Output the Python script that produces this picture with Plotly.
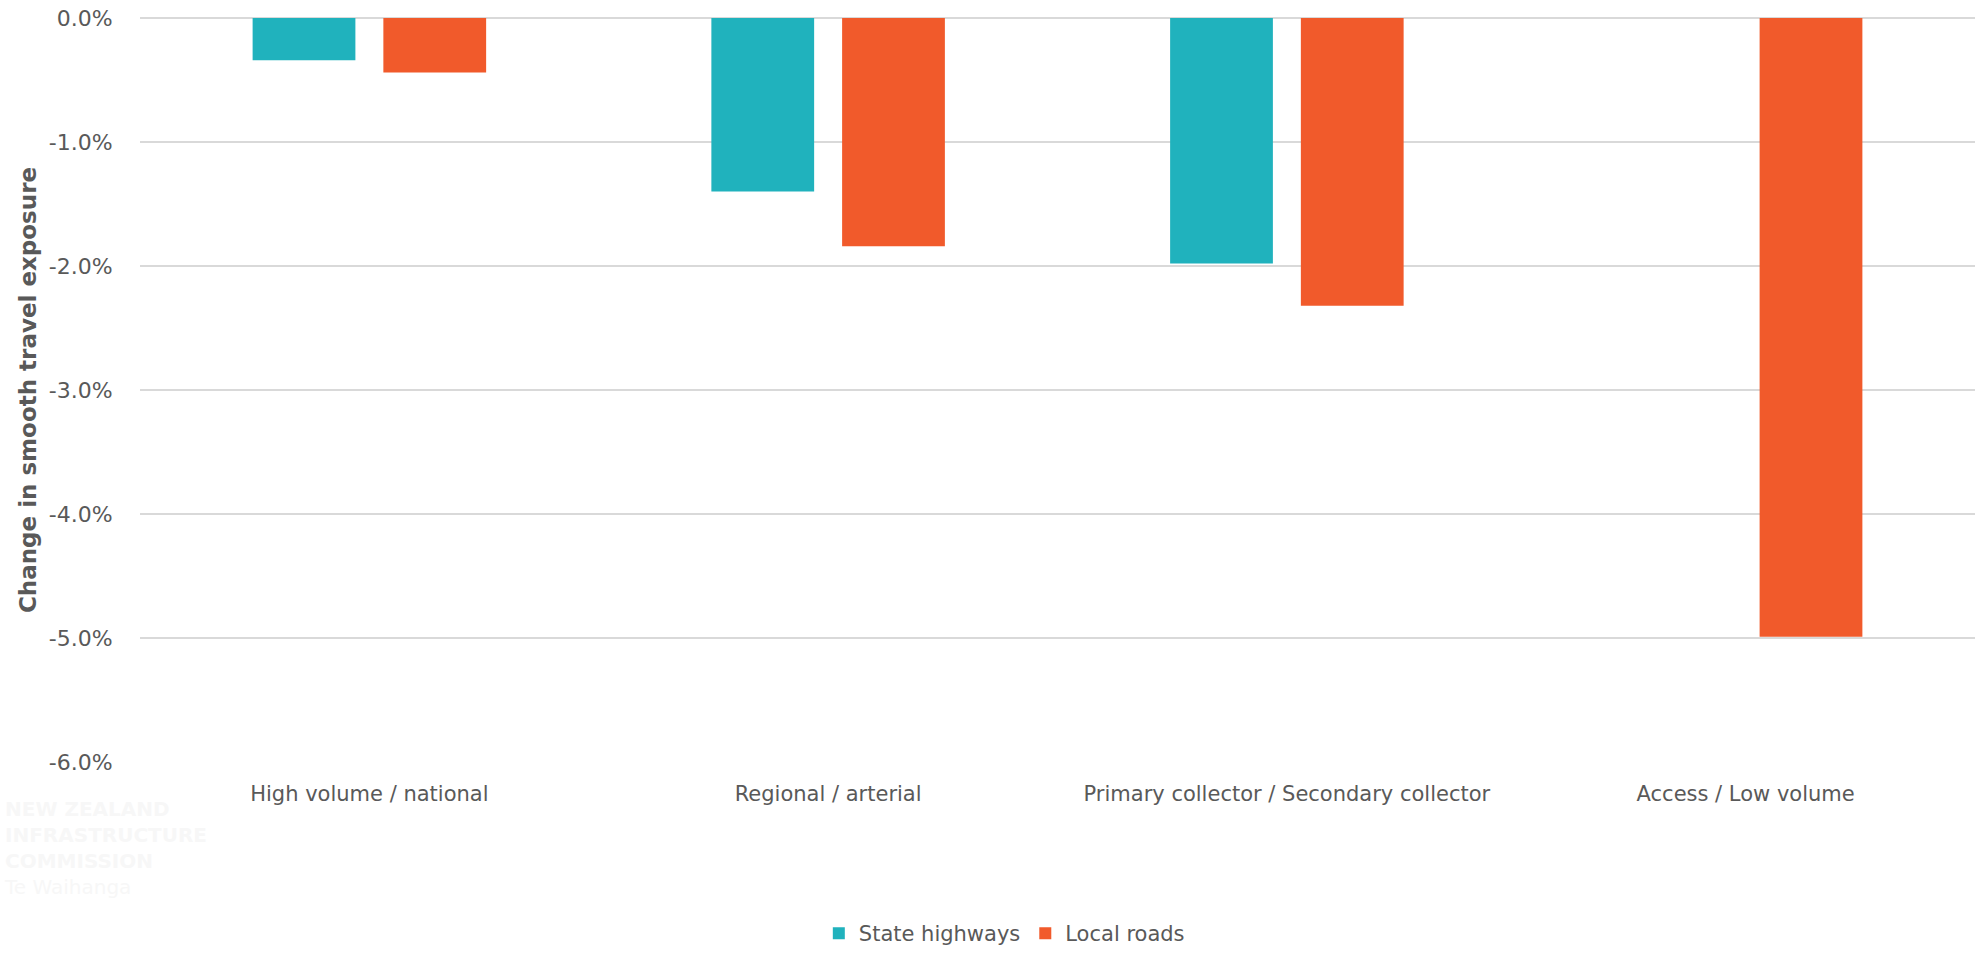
import plotly.graph_objects as go

# Road classes along the x axis
categories = [
    "High volume / national",
    "Regional / arterial",
    "Primary collector / Secondary collector",
    "Access / Low volume",
]

# Change in smooth travel exposure (fraction)
state_highways = [-0.0034, -0.0140, -0.0198, None]
local_roads = [-0.0044, -0.0184, -0.0232, -0.0499]

# Value-axis ticks and their labels
y_ticks = [0.0, -0.01, -0.02, -0.03, -0.04, -0.05, -0.06]
y_tick_labels = ["0.0%", "-1.0%", "-2.0%", "-3.0%", "-4.0%", "-5.0%", "-6.0%"]

TEAL = "#20B2BD"
ORANGE = "#F15A2B"
TEXT = "#595959"
GRID = "#D9D9D9"
FONT = "DejaVu Sans"

fig = go.Figure()
fig.add_trace(go.Bar(name="State highways", x=categories, y=state_highways,
                     marker=dict(color=TEAL, line=dict(width=0))))
fig.add_trace(go.Bar(name="Local roads", x=categories, y=local_roads,
                     marker=dict(color=ORANGE, line=dict(width=0))))

fig.update_layout(
    width=1977, height=954,
    margin=dict(l=140, r=2, t=18, b=192),
    paper_bgcolor="white", plot_bgcolor="white",
    barmode="group", bargap=0.43, bargroupgap=0.214,
    font=dict(family=FONT, color=TEXT, size=20),
    showlegend=True,
    legend=dict(orientation="h", xref="container", x=0.508, xanchor="center",
                yref="container", y=0.0, yanchor="bottom",
                font=dict(size=21, color=TEXT), itemwidth=30,
                traceorder="normal"),
    xaxis=dict(showgrid=False, showline=False, zeroline=False,
               ticks="", ticklabelstandoff=17,
               tickfont=dict(size=21, color=TEXT)),
    yaxis=dict(range=[-0.06, 0], tickvals=y_ticks, ticktext=y_tick_labels,
               showgrid=True, gridcolor=GRID, gridwidth=2,
               zeroline=True, zerolinecolor=GRID, zerolinewidth=2,
               showline=False, ticks="outside", ticklen=22,
               tickcolor="rgba(0,0,0,0)",
               tickfont=dict(size=22, color=TEXT)),
)

# Vertical axis title
fig.add_annotation(text="<b>Change in smooth travel exposure</b>",
                   xref="paper", yref="paper", x=-0.061, y=0.5,
                   xanchor="center", yanchor="middle", textangle=-90,
                   showarrow=False, font=dict(size=23, color=TEXT))

# Faint organisation mark, lower left
fig.add_annotation(
    text="<b>NEW ZEALAND<br>INFRASTRUCTURE<br>COMMISSION</b><br>Te Waihanga",
    xref="paper", yref="paper", x=-0.075, y=-0.045,
    xanchor="left", yanchor="top", align="left", showarrow=False,
    font=dict(size=20, color="#F7F7F7"))

fig.write_html("out.html")
